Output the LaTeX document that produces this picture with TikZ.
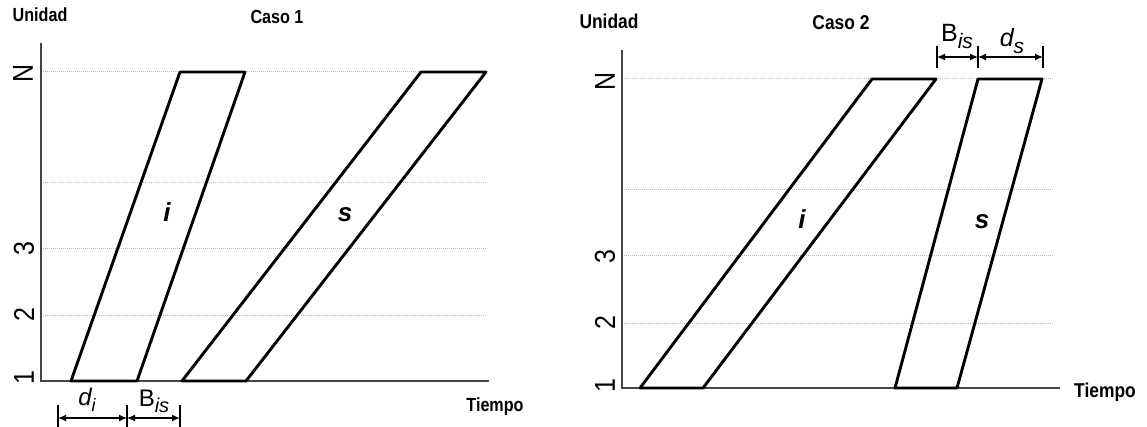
\documentclass[tikz,border=0pt]{standalone}
\usepackage{fontspec}
\setmainfont{Liberation Sans}
\usetikzlibrary{arrows.meta}
\begin{document}
\begin{tikzpicture}[x=1pt,y=-1pt,
  axis/.style={draw=gray!55!black, line width=2.3pt},
  gridline/.style={draw=gray!55, line width=1pt, dash pattern=on 1pt off 1pt},
  bar/.style={draw=black, line width=2.9pt, line join=round},
  ttl/.style={font=\fontsize{19}{19}\selectfont\bfseries, xscale=0.85, inner sep=0pt},
  ttlb/.style={font=\fontsize{20}{20}\selectfont\bfseries, xscale=0.87, inner sep=0pt},
  tick/.style={font=\fontsize{25}{25}\selectfont, rotate=90, inner sep=0pt},
  lbl/.style={font=\fontsize{26}{26}\selectfont\bfseries\itshape, inner sep=0pt},
  dim/.style={font=\fontsize{24}{24}\selectfont, inner sep=0pt},
  dimline/.style={draw=black, line width=1.3pt, {Latex[length=8pt,width=7pt]}-{Latex[length=8pt,width=7pt]}},
  dimtick/.style={draw=black, line width=1.1pt}
]
\useasboundingbox (0,0) rectangle (1147,427);

% ---------- Caso 1 ----------
\node[ttl] (u1) at (40,15) {Unidad};
\node[ttl] (c1) at (277,17) {Caso 1};
\node[ttl] (t1) at (495,407) {Tiempo};

\foreach \yy in {72,183,249,315} \draw[gridline] (41,\yy) -- (487,\yy);
\coordinate (a1top) at (41,43);
\coordinate (a1o) at (41,381);
\coordinate (a1end) at (489,381);
\draw[axis] (a1top) -- (a1o) -- (a1end);

\node[tick] (n1) at (23,73) {\scalebox{1}[1.15]{N}};
\node[tick] (th1) at (24,249) {\scalebox{1}[1.15]{3}};
\node[tick] (tw1) at (24,315) {\scalebox{1}[1.15]{2}};
\node[tick] (on1) at (24,378) {\scalebox{1}[1.15]{1}};

\draw[bar] (71,381) -- (137,381) -- (245,72) -- (180,72) -- cycle;
\draw[bar] (182,381) -- (246,381) -- (486,72) -- (421,72) -- cycle;
\node[lbl] (i1) at (167,212) {i};
\node[lbl] (s1) at (345,215) {s};

\coordinate (p1) at (58,418);
\coordinate (p2) at (127,418);
\coordinate (p3) at (180,418);
\foreach \xx in {58,127,180} \draw[dimtick] (\xx,405) -- (\xx,427);
\draw[dimline] (p1) -- (p2);
\draw[dimline] (p2) -- (p3);
\node[dim] (di) at (87,400) {\itshape d\raisebox{-6pt}{\fontsize{18}{18}\selectfont i}};
\node[dim] (bis1) at (154,401) {B\raisebox{-6pt}{\fontsize{20}{20}\selectfont\itshape is}};

% ---------- Caso 2 ----------
\node[ttlb] (u2) at (609,21) {Unidad};
\node[ttlb] (c2) at (841,23) {Caso 2};
\node[ttlb] (t2) at (1105,392) {Tiempo};

\foreach \yy in {79,190,256,323} \draw[gridline] (622,\yy) -- (1054,\yy);
\coordinate (a2top) at (622,50);
\coordinate (a2o) at (622,388);
\coordinate (a2end) at (1060,388);
\draw[axis] (a2top) -- (a2o) -- (a2end);

\node[tick] (n2) at (605,81) {\scalebox{1}[1.15]{N}};
\node[tick] (th2) at (605,257) {\scalebox{1}[1.15]{3}};
\node[tick] (tw2) at (605,323) {\scalebox{1}[1.15]{2}};
\node[tick] (on2) at (605,386) {\scalebox{1}[1.15]{1}};

\draw[bar] (640,388) -- (703,388) -- (936,79) -- (872,79) -- cycle;
\draw[bar] (895,388) -- (957,388) -- (1042,79) -- (978,79) -- cycle;
\node[lbl] (i2) at (802,219) {i};
\node[lbl] (s2) at (982,222) {s};

\coordinate (q1) at (937,57);
\coordinate (q2) at (978,57);
\coordinate (q3) at (1043,57);
\foreach \xx in {937,978,1043} \draw[dimtick] (\xx,46) -- (\xx,68);
\draw[dimline] (q1) -- (q2);
\draw[dimline] (q2) -- (q3);
\node[dim, font=\fontsize{25}{25}\selectfont] (bis2) at (957,37) {B\raisebox{-7pt}{\fontsize{21}{21}\selectfont\itshape is}};
\node[dim, font=\fontsize{25}{25}\selectfont] (ds) at (1012,41) {\itshape d\raisebox{-7pt}{\fontsize{21}{21}\selectfont s}};
\end{tikzpicture}
\end{document}
